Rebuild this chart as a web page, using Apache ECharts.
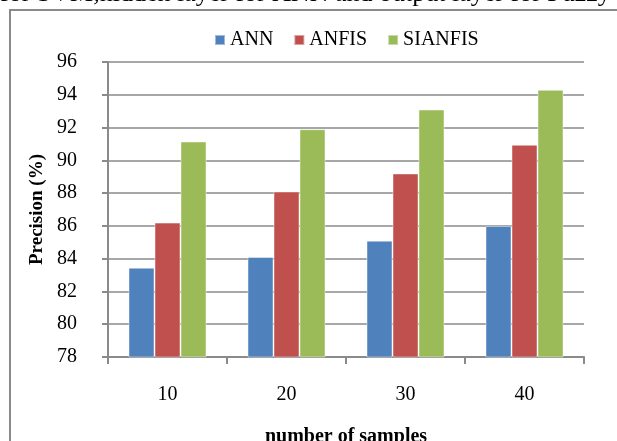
<!DOCTYPE html>
<html>
<head>
<meta charset="utf-8">
<script src="https://cdn.jsdelivr.net/npm/echarts@6/dist/echarts.min.js"></script>
<style>
  html, body { margin: 0; padding: 0; background: #fff; }
  #chart { width: 617px; height: 441px; }
</style>
</head>
<body>
<div id="chart"></div>
<script>
// Sample counts on the x axis
const categories = ['10', '20', '30', '40'];

// Precision (%) per method
const annValues = [83.45, 84.1, 85.1, 86.0];
const anfisValues = [86.2, 88.1, 89.2, 90.95];
const sianfisValues = [91.15, 91.9, 93.1, 94.3];

const seriesNames = ['ANN', 'ANFIS', 'SIANFIS'];
const seriesColors = ['#4F81BD', '#C0504D', '#9BBB59'];

const serif = '"Liberation Serif", "Times New Roman", serif';
const gridGray = '#8a8a8a';

const chart = echarts.init(document.getElementById('chart'), null, { renderer: 'canvas' });

function barSeries(name, data, color) {
  return {
    name: name,
    type: 'bar',
    data: data,
    barWidth: 26,
    barGap: '0%',
    itemStyle: { color: color, borderColor: 'rgba(255,255,255,0.45)', borderWidth: 1 }
  };
}

chart.setOption({
  animation: false,
  backgroundColor: '#ffffff',
  graphic: [
    {
      type: 'text',
      left: 0,
      top: -19,
      style: {
        text: 'for SVM,hidden layer for ANN and output layer for Fuzzy',
        font: '26px ' + serif,
        fill: '#000'
      }
    },
    {
      type: 'rect',
      shape: { x: 10, y: 10, width: 700, height: 500 },
      style: { fill: 'none', stroke: gridGray, lineWidth: 2 }
    }
  ],
  legend: {
    data: seriesNames,
    top: 30,
    left: 214,
    padding: 0,
    itemWidth: 10,
    itemHeight: 10,
    itemGap: 20,
    icon: 'rect',
    textStyle: { fontFamily: serif, fontSize: 20, color: '#000' }
  },
  grid: { left: 108, right: 33, top: 62, bottom: 84, outerBoundsMode: 'none' },
  xAxis: {
    type: 'category',
    data: categories,
    name: 'number of samples',
    nameLocation: 'middle',
    nameGap: 70,
    nameTextStyle: { fontFamily: serif, fontSize: 20, fontWeight: 'bold', color: '#000' },
    axisLine: { lineStyle: { color: gridGray, width: 2 } },
    axisTick: { show: true, length: 7, lineStyle: { color: gridGray, width: 2 } },
    axisLabel: { fontFamily: serif, fontSize: 20, color: '#000', margin: 28 }
  },
  yAxis: {
    type: 'value',
    min: 78,
    max: 96,
    interval: 2,
    name: 'Precision (%)',
    nameLocation: 'middle',
    nameGap: 60,
    nameTextStyle: { fontFamily: serif, fontSize: 19, fontWeight: 'bold', color: '#000' },
    axisLine: { show: true, lineStyle: { color: gridGray, width: 2 } },
    axisTick: { show: true, length: 6, lineStyle: { color: gridGray, width: 2 } },
    axisLabel: { fontFamily: serif, fontSize: 20, color: '#000', margin: 31 },
    splitLine: { show: true, lineStyle: { color: gridGray, width: 1.6 } }
  },
  series: [
    barSeries(seriesNames[0], annValues, seriesColors[0]),
    barSeries(seriesNames[1], anfisValues, seriesColors[1]),
    barSeries(seriesNames[2], sianfisValues, seriesColors[2])
  ]
});
</script>
</body>
</html>
